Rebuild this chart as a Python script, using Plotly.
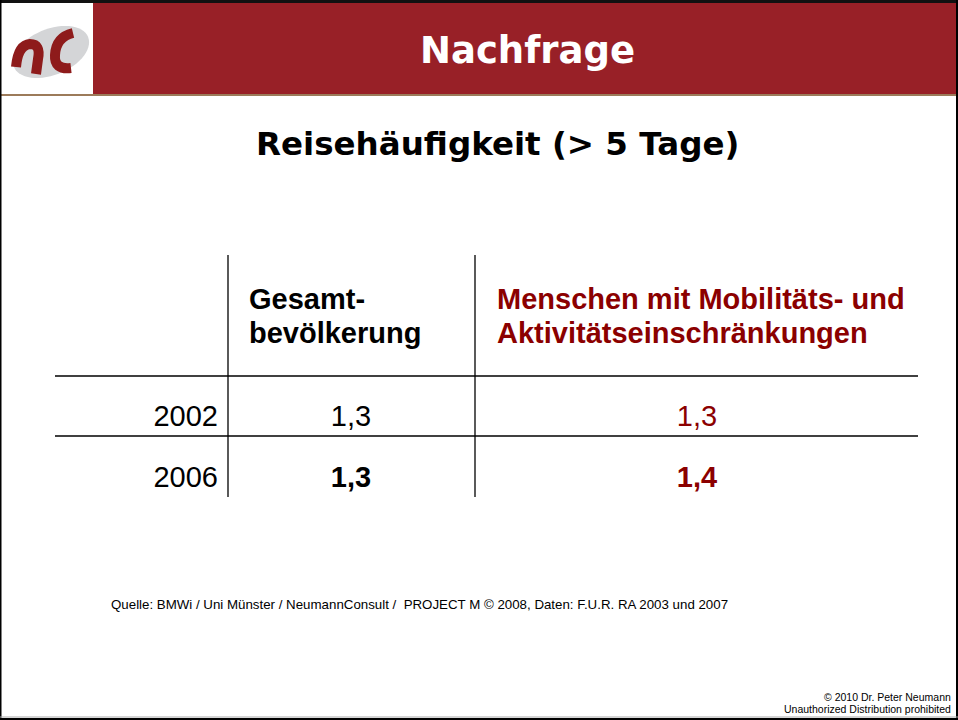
import numpy as np
import plotly.graph_objects as go

# table data
YEARS = ["2002", "2006"]
GESAMT = [1.3, 1.3]
MENSCHEN = [1.3, 1.4]
BOLD_ROW = [False, True]

HEAD_GESAMT = ["Gesamt-", "bevölkerung"]
HEAD_MENSCHEN = ["Menschen mit Mobilitäts- und", "Aktivitätseinschränkungen"]

TITLE = "Nachfrage"
SUBTITLE = "Reisehäufigkeit (> 5 Tage)"
SOURCE = "Quelle: BMWi / Uni Münster / NeumannConsult /  PROJECT M © 2008, Daten: F.U.R. RA 2003 und 2007"
COPYRIGHT = ["© 2010 Dr. Peter Neumann", "Unauthorized Distribution prohibited"]

W, H = 958, 720
RED = "#8b0000"
HEADER_RED = "#982027"
ARIAL = "Liberation Sans, Arial, sans-serif"
VERDANA = "DejaVu Sans, Verdana, sans-serif"

# layout positions (pixels)
ROW_Y = [419, 480]
YEAR_X = 218
GES_X = 351
MEN_X = 697


def fmt(v, bold):
    s = f"{v:.1f}".replace(".", ",")
    return f"<b>{s}</b>" if bold else s


fig = go.Figure()

# year labels (right aligned)
fig.add_trace(go.Scatter(
    x=[YEAR_X] * len(YEARS), y=ROW_Y, mode="text", text=YEARS,
    textposition="middle left", textfont=dict(family=ARIAL, size=29, color="black"),
    hoverinfo="skip", showlegend=False))
fig.add_trace(go.Scatter(
    x=[GES_X] * len(GESAMT), y=ROW_Y, mode="text",
    text=[fmt(v, b) for v, b in zip(GESAMT, BOLD_ROW)],
    textposition="middle center", textfont=dict(family=ARIAL, size=29, color="black"),
    hoverinfo="skip", showlegend=False))
fig.add_trace(go.Scatter(
    x=[MEN_X] * len(MENSCHEN), y=ROW_Y, mode="text",
    text=[fmt(v, b) for v, b in zip(MENSCHEN, BOLD_ROW)],
    textposition="middle center", textfont=dict(family=ARIAL, size=29, color=RED),
    hoverinfo="skip", showlegend=False))

shapes = []
# header band
shapes.append(dict(type="rect", x0=93, x1=957, y0=3, y1=94, fillcolor=HEADER_RED, line_width=0, layer="below"))
shapes.append(dict(type="line", x0=0, x1=958, y0=95, y1=95, line=dict(color="#9c7b5a", width=2)))
# frame
shapes.append(dict(type="rect", x0=0, x1=958, y0=0, y1=3, fillcolor="#111111", line_width=0))
shapes.append(dict(type="line", x0=0.5, x1=0.5, y0=0, y1=720, line=dict(color="black", width=2)))
shapes.append(dict(type="line", x0=957, x1=957, y0=0, y1=720, line=dict(color="black", width=2)))
shapes.append(dict(type="line", x0=0, x1=958, y0=717, y1=717, line=dict(color="#aaaaaa", width=1)))
shapes.append(dict(type="line", x0=0, x1=958, y0=719, y1=719, line=dict(color="black", width=2)))

# logo: grey tilted ellipse
t = np.linspace(0, 2 * np.pi, 60)
a, b, ang = 40, 23, np.deg2rad(-22)
ex = 51 + a * np.cos(t) * np.cos(ang) - b * np.sin(t) * np.sin(ang)
ey = 52 + a * np.cos(t) * np.sin(ang) + b * np.sin(t) * np.cos(ang)
path = "M " + " L ".join(f"{x:.1f},{y:.1f}" for x, y in zip(ex, ey)) + " Z"
shapes.append(dict(type="path", path=path, fillcolor="#d4d5d7", line_width=0))
# logo: red strokes
shapes.append(dict(type="path", path="M 16,67 Q 18,45 30,44 Q 41,44 38,59 L 36,74",
                   line=dict(color="#8e1b1b", width=10)))
shapes.append(dict(type="path", path="M 73,33 Q 56,37 55,55 Q 54,70 71,68",
                   line=dict(color="#8e1b1b", width=10)))

# table grid
for yy in [376, 436]:
    shapes.append(dict(type="line", x0=55, x1=918, y0=yy, y1=yy, line=dict(color="black", width=1.3)))
for xx in [228, 475]:
    shapes.append(dict(type="line", x0=xx, x1=xx, y0=255, y1=497, line=dict(color="black", width=1.3)))

annotations = [
    dict(x=527, y=50, text=f"<b>{TITLE}</b>", font=dict(family=VERDANA, size=37, color="white")),
    dict(x=497, y=144, text=f"<b>{SUBTITLE}</b>", font=dict(family=VERDANA, size=32.5, color="black")),
    dict(x=247, y=299, text=f"<b>{HEAD_GESAMT[0]}</b>", xanchor="left", font=dict(family=ARIAL, size=29, color="black")),
    dict(x=247, y=333, text=f"<b>{HEAD_GESAMT[1]}</b>", xanchor="left", font=dict(family=ARIAL, size=29, color="black")),
    dict(x=495, y=299, text=f"<b>{HEAD_MENSCHEN[0]}</b>", xanchor="left", font=dict(family=ARIAL, size=29, color=RED)),
    dict(x=495, y=333, text=f"<b>{HEAD_MENSCHEN[1]}</b>", xanchor="left", font=dict(family=ARIAL, size=29, color=RED)),
    dict(x=109, y=604, text=SOURCE, xanchor="left", font=dict(family=ARIAL, size=13.3, color="black")),
    dict(x=953, y=697, text=COPYRIGHT[0], xanchor="right", font=dict(family=ARIAL, size=10.5, color="black")),
    dict(x=953, y=709, text=COPYRIGHT[1], xanchor="right", font=dict(family=ARIAL, size=10.5, color="black")),
]
for an in annotations:
    an.update(xref="x", yref="y", showarrow=False, yanchor="middle")
    an.setdefault("xanchor", "center")

fig.update_layout(
    width=W, height=H, margin=dict(l=0, r=0, t=0, b=0),
    paper_bgcolor="white", plot_bgcolor="white",
    xaxis=dict(range=[0, W], visible=False, fixedrange=True),
    yaxis=dict(range=[H, 0], visible=False, fixedrange=True),
    shapes=shapes, annotations=annotations, showlegend=False,
)

fig.write_html("out.html", config={"displayModeBar": False},
               post_script="document.body.style.margin='0';document.body.style.overflow='hidden';")
